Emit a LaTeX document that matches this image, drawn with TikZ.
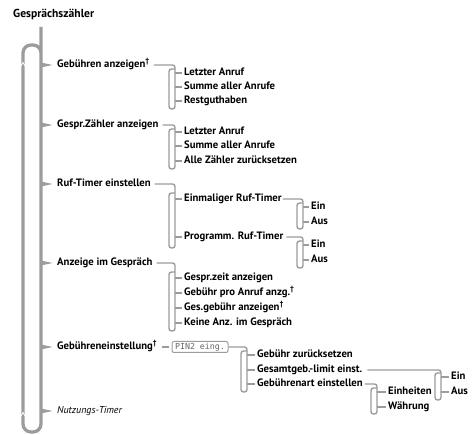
\documentclass[tikz,border=0pt]{standalone}
\usepackage{fontspec}
\setmainfont{PT Sans}
\newfontfamily\monof{DejaVu Sans Mono}
\usetikzlibrary{calc}
\definecolor{lg}{HTML}{9C9C9C}
\newcommand\dg{\textsuperscript{†}}
\tikzset{
  mainline/.style={draw=lg, line width=3.3pt, rounded corners=8pt},
  subloop/.style={draw=lg, line width=1.4pt, rounded corners=2.5pt},
  tick/.style={draw=lg, line width=1.1pt},
  txt/.style={anchor=west, inner sep=0pt, text height=7.5pt, text depth=2pt,
     font=\bfseries\fontsize{10.7}{12}\selectfont},
  ttl/.style={anchor=west, inner sep=0pt, font=\bfseries\fontsize{11.6}{13}\selectfont},
  itx/.style={anchor=west, inner sep=0pt, text height=7.5pt, text depth=2pt,
     font=\itshape\fontsize{10}{12}\selectfont},
  pinbox/.style={draw=lg, line width=1pt, rounded corners=2pt, inner sep=0pt,
     minimum width=56pt, minimum height=11pt, text=black!60,
     font=\monof\fontsize{8.3}{10}\selectfont}
}
% tip of the main brace pointing at a first-level node
\newcommand\tip[1]{\fill[lg] ($(#1.west)+(-16.6,-6)$) .. controls ($(#1.west)+(-16.6,-2)$) and ($(#1.west)+(-14,-1.4)$) .. ($(#1.west)+(-11,-1.4)$) -- ($(#1.west)+(-4.5,0)$) -- ($(#1.west)+(-11,1.4)$) .. controls ($(#1.west)+(-14,1.4)$) and ($(#1.west)+(-16.6,2)$) .. ($(#1.west)+(-16.6,6)$) -- cycle;}
% sub loop: #1 parent node, #2 left x, #3 top y, #4 bottom y, #5 start offset
\newcommand\grp[5]{\draw[subloop] ($(#1.east)+(#5,0)$) -- ({#2+6},0 |- #1.east) -- ({#2+6},#4) -- (#2,#4) -- (#2,#3) -- ({#2+6},#3);}
% child tick: #1 child node, #2 left x of loop
\newcommand\tk[2]{\draw[tick] ({#2+6},0 |- #1.west) -- ($(#1.west)+(-2.5,0)$);}
\begin{document}
\begin{tikzpicture}[x=1pt,y=-1pt]
\fill[white] (0,0) rectangle (472,435);
\useasboundingbox (0,0) rectangle (472,435);

\node[ttl] (title) at (13,14) {Gesprächszähler};

% main loop
\coordinate (mtop) at (41,27);
\draw[mainline] (mtop) -- (41,432) -- (23,432) -- (23,45) -- (41,45) -- (41,60);
\draw[white, line width=0.8pt] (20.6,66.5) -- (23,62.5) -- (25.4,66.5);
\draw[white, line width=0.8pt] (20.6,416.5) -- (23,412.5) -- (25.4,416.5);

% first level
\node[txt] (g1) at (57,65) {Gebühren anzeigen\dg};
\node[txt] (g2) at (57,125) {Gespr.Zähler anzeigen};
\node[txt] (g3) at (57,184) {Ruf-Timer einstellen};
\node[txt] (g4) at (57,263) {Anzeige im Gespräch};
\node[txt] (g5) at (57,347) {Gebühreneinstellung\dg};
\node[itx] (g6) at (57,411) {Nutzungs-Timer};
\foreach \n in {g1,g2,g3,g4,g5,g6} {\tip{\n}}

% group 1
\node[txt] (a1) at (184,73) {Letzter Anruf};
\node[txt] (a2) at (184,87) {Summe aller Anrufe};
\node[txt] (a3) at (184,101) {Restguthaben};
\grp{g1}{169}{69}{109}{4}
\foreach \n in {a1,a2,a3} {\tk{\n}{169}}

% group 2
\node[txt] (b1) at (184,132) {Letzter Anruf};
\node[txt] (b2) at (184,146) {Summe aller Anrufe};
\node[txt] (b3) at (184,161) {Alle Zähler zurücksetzen};
\grp{g2}{169}{129}{169}{4}
\foreach \n in {b1,b2,b3} {\tk{\n}{169}}

% group 3
\node[txt] (c1) at (184,199) {Einmaliger Ruf-Timer};
\node[txt] (c2) at (184,237) {Programm. Ruf-Timer};
\grp{g3}{169}{193}{248}{4}
\foreach \n in {c1,c2} {\tk{\n}{169}}

\node[txt] (d1) at (311,207) {Ein};
\node[txt] (d2) at (311,222) {Aus};
\grp{c1}{297}{203}{229}{1}
\foreach \n in {d1,d2} {\tk{\n}{297}}

\node[txt] (e1) at (311,245) {Ein};
\node[txt] (e2) at (311,260) {Aus};
\grp{c2}{297}{241}{268}{3}
\foreach \n in {e1,e2} {\tk{\n}{297}}

% group 4
\node[txt] (f1) at (184,278) {Gespr.zeit anzeigen};
\node[txt] (f2) at (184,293) {Gebühr pro Anruf anzg.\dg};
\node[txt] (f3) at (184,308) {Ges.gebühr anzeigen\dg};
\node[txt] (f4) at (184,323) {Keine Anz. im Gespräch};
\grp{g4}{169}{272}{331}{4}
\foreach \n in {f1,f2,f3,f4} {\tk{\n}{169}}

% group 5
\node[pinbox] (pin) at (200,347) {PIN2 eing.};
\draw[tick] ($(g5.east)+(5,0)$) -- ($(pin.west)+(-3,0)$);
\node[txt] (h1) at (257,355) {Gebühr zurücksetzen};
\node[txt] (h2) at (257,370) {Gesamtgeb.-limit einst.};
\node[txt] (h3) at (257,384) {Gebührenart einstellen};
\grp{pin}{241}{351}{392}{0}
\foreach \n in {h1,h2,h3} {\tk{\n}{241}}

\node[txt] (i1) at (451,377) {Ein};
\node[txt] (i2) at (451,392) {Aus};
\grp{h2}{435}{373}{400}{5}
\foreach \n in {i1,i2} {\tk{\n}{435}}

\node[txt] (j1) at (388,392) {Einheiten};
\node[txt] (j2) at (388,407) {Währung};
\grp{h3}{371}{388}{414}{2}
\foreach \n in {j1,j2} {\tk{\n}{371}}
\end{tikzpicture}
\end{document}
